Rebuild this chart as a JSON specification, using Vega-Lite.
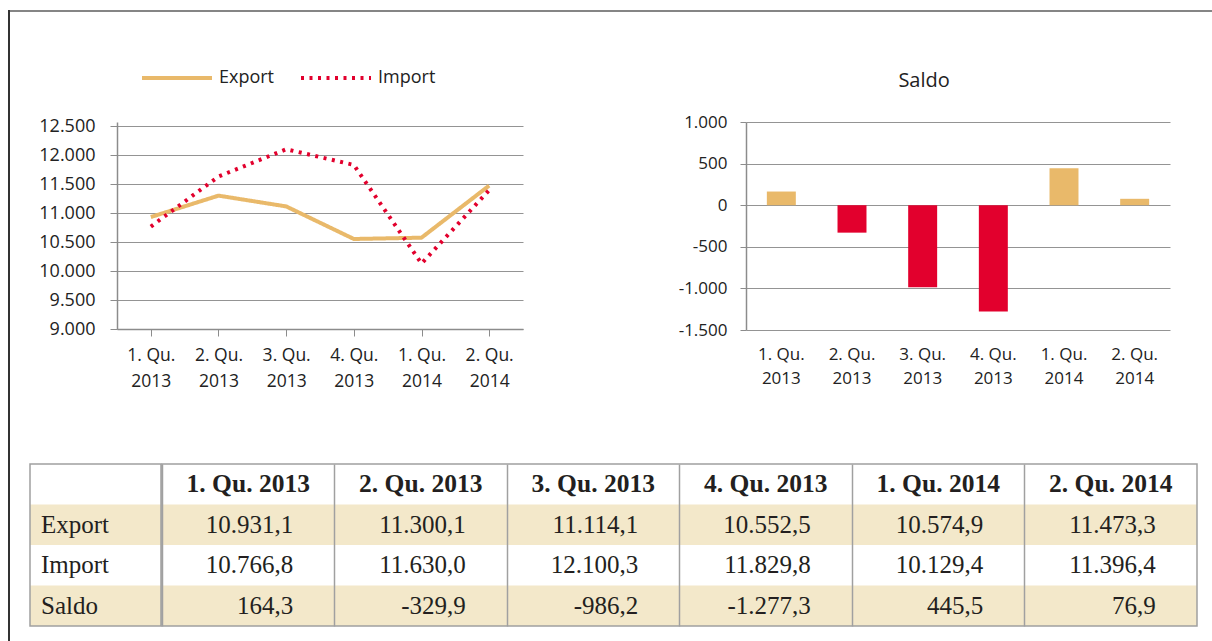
{
  "$schema": "https://vega.github.io/schema/vega-lite/v6.json",
  "padding": {"left": 8, "top": 10, "right": 0, "bottom": 0},
  "background": "white",
  "datasets": {
    "trade": [
      {"q": "1. Qu. 2013", "series": "Export", "value": 10931.1},
      {"q": "2. Qu. 2013", "series": "Export", "value": 11300.1},
      {"q": "3. Qu. 2013", "series": "Export", "value": 11114.1},
      {"q": "4. Qu. 2013", "series": "Export", "value": 10552.5},
      {"q": "1. Qu. 2014", "series": "Export", "value": 10574.9},
      {"q": "2. Qu. 2014", "series": "Export", "value": 11473.3},
      {"q": "1. Qu. 2013", "series": "Import", "value": 10766.8},
      {"q": "2. Qu. 2013", "series": "Import", "value": 11630.0},
      {"q": "3. Qu. 2013", "series": "Import", "value": 12100.3},
      {"q": "4. Qu. 2013", "series": "Import", "value": 11829.8},
      {"q": "1. Qu. 2014", "series": "Import", "value": 10129.4},
      {"q": "2. Qu. 2014", "series": "Import", "value": 11396.4},
      {"q": "1. Qu. 2013", "series": "Saldo", "value": 164.3},
      {"q": "2. Qu. 2013", "series": "Saldo", "value": -329.9},
      {"q": "3. Qu. 2013", "series": "Saldo", "value": -986.2},
      {"q": "4. Qu. 2013", "series": "Saldo", "value": -1277.3},
      {"q": "1. Qu. 2014", "series": "Saldo", "value": 445.5},
      {"q": "2. Qu. 2014", "series": "Saldo", "value": 76.9}
    ],
    "blank": [{}]
  },
  "hconcat": [
    {"width": 2, "height": 631, "data": {"name": "blank"},
     "mark": {"type": "rect", "opacity": 0},
     "encoding": {"x": {"value": 0}, "x2": {"value": "width"}, "y": {"value": 0}, "y2": {"value": "height"}},
     "view": {"fill": "#333333", "stroke": null}},
    {
      "vconcat": [
        {"width": 1202, "height": 2, "data": {"name": "blank"},
         "mark": {"type": "rect", "opacity": 0},
         "encoding": {"x": {"value": 0}, "x2": {"value": "width"}, "y": {"value": 0}, "y2": {"value": "height"}},
         "view": {"fill": "#858585", "stroke": null}},
        {"width": 1, "height": 59, "data": {"name": "blank"},
         "mark": {"type": "rect", "opacity": 0},
         "encoding": {"x": {"value": 0}, "x2": {"value": "width"}, "y": {"value": 0}, "y2": {"value": "height"}}},
        {
          "hconcat": [
            {"width": 28, "height": 1, "data": {"name": "blank"},
             "mark": {"type": "rect", "opacity": 0},
             "encoding": {"x": {"value": 0}, "x2": {"value": "width"}, "y": {"value": 0}, "y2": {"value": "height"}}},
            {
              "width": 406, "height": 207,
              "data": {"name": "trade"},
              "transform": [{"filter": "datum.series !== 'Saldo'"}],
              "mark": {"type": "line", "strokeWidth": 4, "strokeJoin": "round"},
              "encoding": {
                "x": {"field": "q", "type": "nominal",
                  "sort": ["1. Qu. 2013","2. Qu. 2013","3. Qu. 2013","4. Qu. 2013","1. Qu. 2014","2. Qu. 2014"],
                  "scale": {"padding": 0.5},
                  "axis": {"title": null, "labelAngle": 0, "labelExpr": "[slice(datum.value,0,6), slice(datum.value,7)]",
                    "tickSize": 7, "tickColor": "#8c8c8c", "domainColor": "#8c8c8c", "domainWidth": 1.5,
                    "labelFont": "Open Sans", "labelFontSize": 17.5, "labelLineHeight": 26, "labelPadding": 10, "labelColor": "#222222", "grid": false}},
                "y": {"field": "value", "type": "quantitative",
                  "scale": {"domain": [9000, 12570], "nice": false, "zero": false},
                  "axis": {"title": null, "values": [9000, 9500, 10000, 10500, 11000, 11500, 12000, 12500],
                    "labelExpr": "replace(format(datum.value, ','), ',', '.')",
                    "grid": true, "gridColor": "#949494", "domainColor": "#8c8c8c", "domainWidth": 1.5, "tickColor": "#8c8c8c", "tickSize": 7,
                    "labelPadding": 15, "labelFont": "Open Sans", "labelFontSize": 18, "labelColor": "#222222"}},
                "color": {"field": "series", "type": "nominal",
                  "scale": {"domain": ["Export", "Import"], "range": ["#E9B96A", "#E2002D"]},
                  "legend": {"title": null, "orient": "none", "legendX": 132, "legendY": 31, "direction": "horizontal",
                    "symbolType": "stroke", "symbolSize": 4900, "symbolStrokeWidth": 4, "labelFont": "Open Sans", "labelFontSize": 18,
                    "labelColor": "#222222", "columnPadding": 18, "labelOffset": 5}},
                "strokeDash": {"field": "series", "type": "nominal",
                  "scale": {"domain": ["Export", "Import"], "range": [[1, 0], [3, 5.5]]},
                  "legend": {"title": null, "orient": "none", "legendX": 132, "legendY": 31, "direction": "horizontal",
                    "symbolType": "stroke", "symbolSize": 4900, "symbolStrokeWidth": 4, "labelFont": "Open Sans", "labelFontSize": 18,
                    "labelColor": "#222222", "columnPadding": 18, "labelOffset": 5}}
              }
            },
            {"width": 155, "height": 1, "data": {"name": "blank"},
             "mark": {"type": "rect", "opacity": 0},
             "encoding": {"x": {"value": 0}, "x2": {"value": "width"}, "y": {"value": 0}, "y2": {"value": "height"}}},
            {
              "width": 424, "height": 208,
              "data": {"name": "trade"},
              "transform": [{"filter": "datum.series === 'Saldo'"}],
              "title": {"text": "Saldo", "font": "Open Sans", "fontSize": 20, "fontWeight": "normal", "color": "#222222", "anchor": "middle", "frame": "bounds", "offset": 22},
              "mark": {"type": "bar"},
              "encoding": {
                "x": {"field": "q", "type": "nominal",
                  "sort": ["1. Qu. 2013","2. Qu. 2013","3. Qu. 2013","4. Qu. 2013","1. Qu. 2014","2. Qu. 2014"],
                  "scale": {"paddingInner": 0.59, "paddingOuter": 0.295},
                  "axis": {"title": null, "labelAngle": 0, "labelExpr": "[slice(datum.value,0,6), slice(datum.value,7)]",
                    "ticks": false, "domain": false, "labelFont": "Open Sans", "labelFontSize": 17, "labelLineHeight": 24,
                    "labelPadding": 16, "labelColor": "#222222", "grid": false}},
                "y": {"field": "value", "type": "quantitative",
                  "scale": {"domain": [-1500, 1000], "nice": false},
                  "axis": {"title": null, "values": [-1500, -1000, -500, 0, 500, 1000],
                    "labelExpr": "replace(replace(format(datum.value, ','), ',', '.'), '\u2212', '-')",
                    "grid": true, "gridColor": "#949494", "domainColor": "#8c8c8c", "domainWidth": 1.5, "tickColor": "#8c8c8c", "tickSize": 6,
                    "labelPadding": 13, "labelFont": "Open Sans", "labelFontSize": 17, "labelColor": "#222222"}},
                "color": {"condition": {"test": "datum.value < 0", "value": "#E2002D"}, "value": "#E9B96A"}
              }
            }
          ],
          "spacing": 0
        },
        {"width": 1, "height": 73, "data": {"name": "blank"},
         "mark": {"type": "rect", "opacity": 0},
         "encoding": {"x": {"value": 0}, "x2": {"value": "width"}, "y": {"value": 0}, "y2": {"value": "height"}}},
        {
          "hconcat": [
            {"width": 19.5, "height": 1, "data": {"name": "blank"},
             "mark": {"type": "rect", "opacity": 0},
             "encoding": {"x": {"value": 0}, "x2": {"value": "width"}, "y": {"value": 0}, "y2": {"value": "height"}}},
            {
              "width": 131, "height": 162,
              "data": {"name": "trade"},
              "layer": [
                {"transform": [{"filter": "datum.q === '1. Qu. 2013'"}],
                 "mark": {"type": "rect"},
                 "encoding": {
                   "y": {"field": "series", "type": "nominal", "scale": {"domain": ["h", "Export", "Import", "Saldo"], "paddingInner": 0, "paddingOuter": 0}, "axis": null},
                   "x": {"value": 0}, "x2": {"value": "width"},
                   "fill": {"condition": {"test": "datum.series === 'Import'", "value": "#ffffff"}, "value": "#F3E8CA"}}},
                {"transform": [{"filter": "datum.q === '1. Qu. 2013'"}],
                 "mark": {"type": "text", "align": "left", "baseline": "middle", "dx": 11, "font": "Liberation Serif", "fontSize": 25, "color": "#231F20"},
                 "encoding": {
                   "y": {"field": "series", "type": "nominal"},
                   "x": {"value": 0}, "text": {"field": "series"}}},
                {"data": {"name": "blank"},
                 "mark": {"type": "rect", "fill": null, "stroke": "#a0a0a0", "strokeWidth": 1.5},
                 "encoding": {"x": {"value": 0}, "x2": {"value": "width"}, "y": {"value": 0}, "y2": {"value": "height"}}}
              ]
            },
            {
              "width": 1035, "height": 162,
              "data": {"name": "trade"},
              "encoding": {
                "x": {"field": "q", "type": "nominal",
                  "sort": ["1. Qu. 2013","2. Qu. 2013","3. Qu. 2013","4. Qu. 2013","1. Qu. 2014","2. Qu. 2014"],
                  "scale": {"paddingInner": 0, "paddingOuter": 0},
                  "axis": {"title": null, "orient": "top", "labels": false, "ticks": false, "domain": false, "grid": true,
                    "gridColor": "#a0a0a0", "gridWidth": 1.5, "bandPosition": 0, "zindex": 1}},
                "y": {"field": "series", "type": "nominal", "scale": {"domain": ["h", "Export", "Import", "Saldo"], "paddingInner": 0, "paddingOuter": 0}, "axis": null}
              },
              "layer": [
                {"mark": {"type": "rect"},
                 "encoding": {
                   "fill": {"condition": {"test": "datum.series === 'Import'", "value": "#ffffff"}, "value": "#F3E8CA"}}},
                {"transform": [{"calculate": "replace(replace(replace(replace(format(datum.value, ',.1f'), ',', '#'), '.', ','), '#', '.'), '\u2212', '-')", "as": "label"}],
                 "mark": {"type": "text", "align": "right", "baseline": "middle", "dx": 45, "font": "Liberation Serif", "fontSize": 25, "color": "#231F20"},
                 "encoding": {"text": {"field": "label"}}},
                {"transform": [{"filter": "datum.series === 'Export'"}, {"calculate": "'h'", "as": "series"}],
                 "mark": {"type": "text", "align": "center", "baseline": "middle", "font": "Liberation Serif", "fontSize": 25.5, "fontWeight": "bold", "color": "#231F20"},
                 "encoding": {"text": {"field": "q"}}},
                {"data": {"name": "blank"},
                 "mark": {"type": "rect", "fill": null, "stroke": "#a0a0a0", "strokeWidth": 1.5},
                 "encoding": {"x": {"value": 0}, "x2": {"value": "width"}, "y": {"value": 0}, "y2": {"value": "height"}}}
              ]
            }
          ],
          "spacing": -1.5
        }
      ],
      "spacing": 0
    }
  ],
  "spacing": 0,
  "config": {
    "view": {"stroke": null}
  }
}
